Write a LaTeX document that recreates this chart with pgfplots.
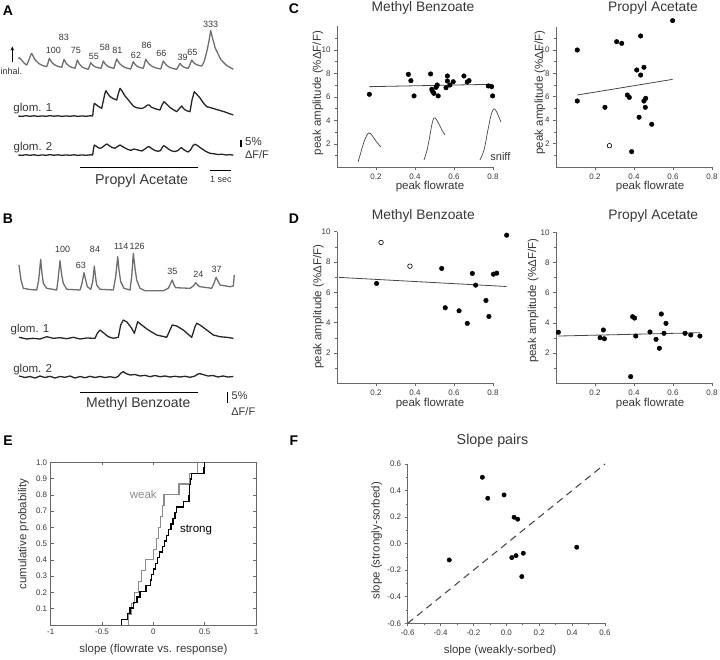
\documentclass[border=0pt]{standalone}
\usepackage{fontspec}
\setmainfont{Liberation Sans}
\usepackage{pgfplots}
\pgfplotsset{compat=1.18}
\usetikzlibrary{arrows.meta}

\definecolor{axgray}{RGB}{105,105,105}
\definecolor{txtgray}{RGB}{55,55,55}
\definecolor{snifgray}{RGB}{110,110,110}
\definecolor{fitgray}{RGB}{70,70,70}
\definecolor{weakgray}{RGB}{140,140,140}
\newcommand\fs[1]{\fontsize{#1}{#1}\selectfont}

\pgfplotsset{
  base/.style={scale only axis, clip=false,
    /pgf/number format/assume math mode=true,
    axis line style={axgray, line width=0.7pt},
    tick style={axgray, line width=0.6pt},
    major tick length=3pt, minor tick length=2pt,
    tick label style={font=\fs{8}, text=txtgray},
    label style={font=\fs{11.5}, text=txtgray}},
  scat/.style={base, width=156pt, xmin=0, xmax=0.8, ymin=0,
    axis x line*=bottom, axis y line*=left, tick align=outside,
    xtick={0.2,0.4,0.6,0.8},
    xlabel={peak flowrate}, ylabel={peak amplitude (\%ΔF/F)}},
  dots/.style={only marks, mark=*, mark size=2.3pt, mark options={draw=black, fill=black}},
  opendots/.style={only marks, mark=*, mark size=2.3pt, mark options={draw=black, fill=white, line width=0.6pt}},
  fitline/.style={no marks, sharp plot, fitgray, line width=0.8pt},
  trace/.style={no marks, sharp plot, line width=1.3pt, line join=round},
}

\begin{document}
\begin{tikzpicture}
\path[use as bounding box] (0pt,0pt) rectangle (720pt,659pt);

% ---------- panels A and B: traces, drawn on a pixel canvas ----------
\begin{axis}[scale only axis, width=720pt, height=659pt, at={(0pt,0pt)}, anchor=south west,
  xmin=0, xmax=720, ymin=0, ymax=659, y dir=reverse, hide axis, clip=false]
% A: sniff
\addplot[trace, snifgray] coordinates {(18.3,58.5)(19.5,57.8)(22,60.5)(24.5,63.5)(26.7,65)(28.5,61)(30.5,55.5)(31.7,53.3)(34.7,59.3)(38.5,63.3)(42.2,65.4)(46.7,66.7)(48,63)(49.3,58.3)(51.8,62.4)(54.9,65)(58,66.4)(61.7,67.3)(62.8,63.5)(64,59.3)(66.2,63.4)(69,66)(71.7,67.4)(75,68.3)(76.2,64.5)(77.3,60)(79.5,64.2)(82.3,67)(85,68.4)(88.3,69.3)(89.5,66)(90.7,62.7)(92.8,65.2)(95.3,66.9)(97.9,67.7)(101,68.3)(102.2,64.8)(103.3,61)(105.4,64.3)(108.1,66.5)(110.8,67.6)(114,68.3)(115.3,63.5)(116.7,59)(119.5,63.5)(123,66.5)(126.5,68)(130.7,69)(132,65.5)(133.3,61.7)(135.3,64.7)(137.8,66.7)(140.3,67.6)(143.3,68.3)(144.5,64)(145.7,59.3)(148.7,63.7)(152.5,66.6)(156.2,68)(160.7,69)(162,65)(163.3,61)(166,64.7)(169.3,67.2)(172.7,68.5)(176.7,69.3)(178.3,66.5)(180,63.3)(181.7,65.5)(183.7,67)(185.8,67.8)(188.3,68.3)(190,64.5)(191.7,60)(193.7,62.7)(196.2,64.5)(198.7,65.4)(201.7,66)(204,62)(206.7,52)(208.8,42)(210.7,30.7)(212.5,38)(215.2,48)(220.9,59.7)(226.5,65.4)(233.3,69.3)};
% A: glom 1
\addplot[trace, black!85] coordinates {(18.3,116)(22,116.4)(26,115.7)(30,116.3)(34,115.8)(38,116.4)(42,115.9)(46,116.3)(50,115.7)(54,116.2)(58,115.8)(62,116.4)(66,115.9)(70,116.3)(74,115.8)(78,116.4)(82,115.9)(86,116.3)(90,115.8)(92.7,116)(93.5,108)(94.3,103.3)(96,104.5)(98.5,106.5)(101.7,108.3)(103.5,100)(105,93)(106,90.7)(108,94)(110,96.5)(113,98.5)(116.7,100)(118.5,93)(120,88.3)(122,91)(125,96)(128,99.5)(130,102)(133.3,106)(136,107.5)(140,108.3)(142,108.5)(145,107)(147.5,105)(149.3,105)(151,107)(155,108.7)(158,109.5)(160,110)(162,105)(164,101.7)(166,103.5)(170,107.5)(173,109.5)(176.7,111.7)(179,109)(181.7,106)(183.5,108.5)(186,110.5)(190,111.7)(192,100)(194.3,91.7)(196.5,94)(200,98)(203,102.5)(206.7,106.7)(210,107.5)(215,109)(220,110.5)(225,112)(229,113.5)(233.3,115)};
% A: glom 2
\addplot[trace, black!85] coordinates {(18.3,155)(22,155.4)(26,154.7)(30,155.3)(34,154.8)(38,155.5)(42,154.9)(46,155.3)(50,154.7)(54,155.2)(58,154.8)(62,155.4)(66,154.9)(70,155.3)(74,154.8)(78,155.4)(82,154.9)(86,155.3)(90,154.8)(92.7,155)(93.5,149)(94.3,145)(96,146)(98,147.5)(100,148.3)(102,147.5)(104.5,145.5)(106.7,144)(109,145.5)(112,147.5)(115,148.3)(117.5,146.5)(120,145)(122.5,146.5)(125,148)(128,149.5)(131,150.3)(134,149)(136,149.5)(139,150.3)(142,151)(145,149)(147.5,147)(149.3,146.7)(151.5,148.5)(155,150.5)(158,151.3)(160.5,150.5)(162.5,147)(164,145.7)(166.5,147.5)(169,149.5)(172,151)(175,151.5)(178,150.5)(180,148.5)(181.7,147.7)(183.5,149.5)(186,151)(188,152)(190.5,150)(193,145.5)(195,144.3)(197.5,145.5)(200,147.5)(203,149.5)(206,151.5)(210,153.3)(214,153.8)(218,154.5)(222,154.2)(226,155)(230,154.6)(233.3,155.2)};
% B: sniff
\addplot[trace, snifgray] coordinates {(19,265)(21,280)(23.3,288.3)(30,289.5)(36.7,290)(38.7,280)(40.7,259.3)(42,273.3)(43.3,283.3)(46.7,288.3)(56.7,290)(58,280)(60,260.7)(61.7,275)(63.3,283.3)(66.7,289.3)(80,290)(82,283.3)(84,272.7)(85.7,280)(87.3,286.7)(90.7,289.3)(92.7,281.7)(94.3,266)(95.7,278.3)(96.7,285)(100,289.3)(113.3,290)(115.7,276.7)(117.7,256.7)(119,270)(120.7,281.7)(124,288.3)(130,290)(131.7,276.7)(133.3,253.3)(135,268.3)(136.7,280)(140,288.3)(145,290.7)(163.3,290.7)(168.3,288.3)(172.3,280)(174,285)(175.7,287.7)(190,288.3)(193.3,286)(195.7,282.7)(198.3,285.7)(200,286.7)(211.7,288.3)(214,283.3)(216,277.3)(218.3,281.7)(220,285)(230,286.7)(233.3,286)(234.3,275)};
% B: glom 1
\addplot[trace, black!85] coordinates {(19,337.3)(26.7,339)(33.3,338.3)(40,339)(46.7,336.7)(53.3,338.3)(60,337.7)(66.7,338.7)(73.3,337.3)(80,339)(86.7,338)(95,338.3)(97.3,333.3)(100,330)(103.3,332.7)(108.3,336.7)(113.3,338.3)(118.3,337.3)(120.7,325)(123.3,320)(126.7,321.7)(131.7,328.3)(134.3,333.3)(137.7,321.7)(141.7,325)(148.3,330)(156.7,335)(166.7,337.3)(170,330)(172.3,325)(176.7,326)(183.3,330)(191.7,337.3)(195,326.7)(196.7,323.3)(200,325)(206.7,330)(213.3,335)(220,336.7)(226.7,337.3)(233.3,338.3)};
% B: glom 2
\addplot[trace, black!85] coordinates {(19,376)(25,377.5)(30,376.5)(35,378)(40,376)(45,377.5)(50,376.3)(55,378)(60,376.5)(65,377.3)(70,376)(75,378)(80,376.5)(85,377.7)(90,376.3)(95,377.5)(100,376.5)(105,377.5)(110,376.7)(115,377.7)(118,376.5)(121,373)(123.3,371.7)(126,373.5)(130,375)(135,374.5)(140,376)(145,375.3)(150,376.7)(155,375.5)(160,376.7)(165,376)(170,377)(175,376.3)(180,377)(185,376.3)(190,377.3)(195,376)(198,374)(200,373.7)(203,374.5)(208,376)(213,375.5)(218,377)(223,376)(228,377)(233.3,376.5)};

% bars and arrow
\draw[-{Stealth[length=4pt,width=3.5pt]}, line width=0.8pt] (axis cs:12.3,62) -- (axis cs:12.3,46.5);
\draw[line width=1.2pt] (axis cs:80,167.7) -- (axis cs:198.3,167.7);
\draw[line width=1.2pt] (axis cs:210,170.3) -- (axis cs:231,170.3);
\draw[line width=1.2pt] (axis cs:241,140) -- (axis cs:241,147);
\draw[line width=1.2pt] (axis cs:80,392.7) -- (axis cs:198.3,392.7);
\draw[line width=1.2pt] (axis cs:227.7,391.7) -- (axis cs:227.7,402.7);

% texts: panel letters, titles, annotations
\begin{scope}[every node/.style={text=txtgray, inner sep=0pt}]
\node[font=\fs{14}\bfseries, text=black] at (axis cs:8,11) {A};
\node[font=\fs{14}\bfseries, text=black] at (axis cs:8,219) {B};
\node[font=\fs{14}\bfseries, text=black] at (axis cs:294,9) {C};
\node[font=\fs{14}\bfseries, text=black] at (axis cs:294,219) {D};
\node[font=\fs{14}\bfseries, text=black] at (axis cs:8,441) {E};
\node[font=\fs{14}\bfseries, text=black] at (axis cs:294,441) {F};
\node[font=\fs{13.8}] at (axis cs:423,8) {Methyl Benzoate};
\node[font=\fs{13.8}] at (axis cs:653,8) {Propyl Acetate};
\node[font=\fs{13.8}] at (axis cs:423.3,216) {Methyl Benzoate};
\node[font=\fs{13.8}] at (axis cs:653.3,216) {Propyl Acetate};
\node[font=\fs{14.3}] at (axis cs:492.5,441) {Slope pairs};
\node[font=\fs{9}, anchor=west] at (axis cs:0.5,71) {inhal.};
\node[font=\fs{9}] at (axis cs:53.3,50) {100};
\node[font=\fs{9}] at (axis cs:64,37.3) {83};
\node[font=\fs{9}] at (axis cs:76,50.7) {75};
\node[font=\fs{9}] at (axis cs:94,56) {55};
\node[font=\fs{9}] at (axis cs:105,47.3) {58};
\node[font=\fs{9}] at (axis cs:117.3,50.7) {81};
\node[font=\fs{9}] at (axis cs:136,55) {62};
\node[font=\fs{9}] at (axis cs:146.7,45.7) {86};
\node[font=\fs{9}] at (axis cs:161.3,53.3) {66};
\node[font=\fs{9}] at (axis cs:182.7,57.3) {39};
\node[font=\fs{9}] at (axis cs:192.3,52.3) {65};
\node[font=\fs{9}] at (axis cs:210.7,24.3) {333};
\node[font=\fs{11.5}] at (axis cs:32.8,108.5) {glom. 1};
\node[font=\fs{11.5}] at (axis cs:33,148) {glom. 2};
\node[font=\fs{11.5}, anchor=west] at (axis cs:245,141.5) {5\%};
\node[font=\fs{11}] at (axis cs:257,155) {ΔF/F};
\node[font=\fs{14.3}] at (axis cs:141.7,181) {Propyl Acetate};
\node[font=\fs{9}] at (axis cs:221,179.7) {1 sec};
\node[font=\fs{9}] at (axis cs:62.7,249.3) {100};
\node[font=\fs{9}] at (axis cs:81,265) {63};
\node[font=\fs{9}] at (axis cs:95,249.3) {84};
\node[font=\fs{9}] at (axis cs:121.3,246) {114};
\node[font=\fs{9}] at (axis cs:137.2,246) {126};
\node[font=\fs{9}] at (axis cs:172.3,271.7) {35};
\node[font=\fs{9}] at (axis cs:198.3,274.3) {24};
\node[font=\fs{9}] at (axis cs:216.7,269.3) {37};
\node[font=\fs{11.5}] at (axis cs:30,329.3) {glom. 1};
\node[font=\fs{11.5}] at (axis cs:32.7,369.3) {glom. 2};
\node[font=\fs{14}] at (axis cs:138.3,404) {Methyl Benzoate};
\node[font=\fs{11}, anchor=west] at (axis cs:231.5,396) {5\%};
\node[font=\fs{11}] at (axis cs:243.3,411.7) {ΔF/F};
\node[font=\fs{11.5}, text=weakgray] at (axis cs:143.3,494) {weak};
\node[font=\fs{11.5}, text=black] at (axis cs:196,530) {strong};
\end{scope}
\end{axis}

% ---------- C left: Methyl Benzoate ----------
\begin{axis}[scat, at={(337pt,491.5pt)}, anchor=south west, height=141pt, ymax=12,
  ytick={2,4,6,8,10}, minor ytick={1,3,5,7,9,11},
  xlabel style={at={(axis description cs:0.596,-0.135)}, anchor=center},
  ylabel style={at={(axis description cs:-0.122,0.528)}, anchor=center}]
\addplot[dots] coordinates {(0.166,6.23)(0.366,7.93)(0.379,7.39)(0.395,6.09)(0.480,7.96)(0.486,6.65)(0.491,6.45)(0.497,6.31)(0.508,6.82)(0.514,7.02)(0.519,6.09)(0.559,6.79)(0.566,7.79)(0.566,7.36)(0.579,7.02)(0.596,7.30)(0.651,7.79)(0.668,7.28)(0.677,7.39)(0.776,6.94)(0.793,6.88)(0.798,6.09)};
\addplot[fitline] coordinates {(0.166,6.88)(0.798,7.08)};
% sniff waveforms
\addplot[no marks, smooth, fitgray, line width=0.7pt] coordinates {(0.108,0.47)(0.123,1.32)(0.138,2.17)(0.151,2.68)(0.162,2.94)(0.172,2.89)(0.185,2.60)(0.205,2.13)(0.226,1.74)};
\addplot[no marks, smooth, fitgray, line width=0.7pt] coordinates {(0.446,0.64)(0.462,1.49)(0.477,2.77)(0.487,3.70)(0.497,4.21)(0.508,4.13)(0.523,3.70)(0.538,3.19)(0.554,2.77)};
\addplot[no marks, smooth, fitgray, line width=0.7pt] coordinates {(0.733,0.64)(0.754,1.49)(0.774,3.19)(0.790,4.47)(0.803,4.98)(0.813,4.89)(0.826,4.47)(0.841,3.87)};
\node[font=\fs{11}, text=txtgray] at (axis cs:0.838,0.95) {sniff};
\end{axis}

% ---------- C right: Propyl Acetate ----------
\begin{axis}[scat, at={(556pt,492pt)}, anchor=south west, height=140.4pt, ymax=12,
  ytick={2,4,6,8,10}, minor ytick={1,3,5,7,9,11},
  xlabel style={at={(axis description cs:0.603,-0.138)}, anchor=center},
  ylabel style={at={(axis description cs:-0.103,0.531)}, anchor=center}]
\addplot[dots] coordinates {(0.598,12.51)(0.109,10.0)(0.311,10.71)(0.337,10.57)(0.434,11.20)(0.414,8.29)(0.434,7.86)(0.451,8.52)(0.366,6.15)(0.376,5.95)(0.109,5.64)(0.251,5.10)(0.460,5.87)(0.451,5.64)(0.458,5.10)(0.426,4.25)(0.491,3.65)(0.388,1.31)};
\addplot[opendots] coordinates {(0.274,1.82)};
\addplot[fitline] coordinates {(0.109,6.15)(0.598,7.49)};
\end{axis}

% ---------- D left: Methyl Benzoate ----------
\begin{axis}[scat, at={(337pt,275.5pt)}, anchor=south west, height=151.8pt, ymax=10,
  ytick={2,4,6,8,10}, minor ytick={1,3,5,7,9},
  xlabel style={at={(axis description cs:0.596,-0.135)}, anchor=center},
  ylabel style={at={(axis description cs:-0.12,0.506)}, anchor=center}]
\addplot[dots] coordinates {(0.870,9.77)(0.537,7.58)(0.694,7.25)(0.802,7.20)(0.819,7.27)(0.203,6.59)(0.711,6.48)(0.764,5.47)(0.555,4.99)(0.626,4.79)(0.779,4.42)(0.668,3.96)};
\addplot[opendots] coordinates {(0.226,9.29)(0.374,7.73)};
\addplot[fitline] coordinates {(0.01,6.99)(0.870,6.39)};
\end{axis}

% ---------- D right: Propyl Acetate ----------
\begin{axis}[scat, at={(556pt,275.7pt)}, anchor=south west, height=151pt, ymax=10,
  ytick={2,4,6,8,10}, minor ytick={1,3,5,7,9},
  xlabel style={at={(axis description cs:0.603,-0.135)}, anchor=center},
  ylabel style={at={(axis description cs:-0.146,0.546)}, anchor=center}]
\addplot[dots] coordinates {(0.012,3.38)(0.226,3.02)(0.243,3.53)(0.248,2.95)(0.393,4.41)(0.403,4.32)(0.409,3.13)(0.482,3.40)(0.513,2.91)(0.530,2.32)(0.540,4.59)(0.554,3.31)(0.564,3.97)(0.662,3.31)(0.691,3.20)(0.738,3.13)(0.383,0.44)};
\addplot[fitline] coordinates {(0.012,3.13)(0.738,3.35)};
\end{axis}

% ---------- E: cumulative distributions ----------
\begin{axis}[base, at={(50.7pt,34pt)}, anchor=south west, width=205.3pt, height=162.7pt,
  xmin=-1, xmax=1, ymin=0, ymax=1, tick align=inside,
  xtick={-1,-0.5,0,0.5,1},
  ytick={0.1,0.2,0.3,0.4,0.5,0.6,0.7,0.8,0.9,1.0},
  yticklabel style={/pgf/number format/.cd, fixed, fixed zerofill, precision=1},
  xlabel={slope (flowrate vs. response)}, ylabel={cumulative probability},
  xlabel style={at={(axis description cs:0.5,-0.148)}, anchor=center},
  ylabel style={at={(axis description cs:-0.133,0.559)}, anchor=center}]
\addplot[const plot, no marks, weakgray, line width=1.1pt] coordinates {(-0.24,0)(-0.24,0.0667)(-0.21,0.1333)(-0.18,0.2)(-0.145,0.2667)(-0.115,0.3333)(-0.08,0.4)(0.0,0.4667)(0.03,0.5333)(0.05,0.6)(0.07,0.6667)(0.088,0.7333)(0.104,0.8)(0.25,0.8667)(0.35,0.9333)(0.43,1.0)};
\addplot[const plot, no marks, black, line width=1.4pt] coordinates {(-0.308,0)(-0.308,0.0345)(-0.253,0.0690)(-0.227,0.1034)(-0.195,0.1379)(-0.16,0.1724)(-0.13,0.2069)(-0.07,0.2414)(-0.03,0.2759)(-0.016,0.3103)(0.0,0.3448)(0.02,0.3793)(0.04,0.4138)(0.06,0.4483)(0.09,0.4828)(0.11,0.5172)(0.13,0.5517)(0.15,0.5862)(0.17,0.6207)(0.19,0.6552)(0.21,0.6897)(0.227,0.7241)(0.292,0.7586)(0.347,0.7931)(0.35,0.8276)(0.355,0.8621)(0.36,0.8966)(0.373,0.9310)(0.495,0.9655)(0.50,1.0)};
\end{axis}

% ---------- F: slope pairs ----------
\begin{axis}[base, at={(407.7pt,35.7pt)}, anchor=south west, width=197.3pt, height=159.3pt,
  xmin=-0.6, xmax=0.6, ymin=-0.6, ymax=0.6,
  axis x line*=bottom, axis y line*=left, tick align=outside,
  xtick={-0.6,-0.4,-0.2,0,0.2,0.4,0.6}, ytick={-0.6,-0.4,-0.2,0,0.2,0.4,0.6},
  minor tick num=1,
  xticklabel style={/pgf/number format/.cd, fixed, fixed zerofill, precision=1},
  yticklabel style={/pgf/number format/.cd, fixed, fixed zerofill, precision=1},
  xlabel={slope (weakly-sorbed)}, ylabel={slope (strongly-sorbed)},
  xlabel style={at={(axis description cs:0.468,-0.174)}, anchor=center},
  ylabel style={at={(axis description cs:-0.157,0.518)}, anchor=center}]
\addplot[no marks, gray!60!black, line width=1.1pt, dash pattern=on 7pt off 5pt] coordinates {(-0.6,-0.6)(0.6,0.6)};
\addplot[dots, mark size=2.2pt] coordinates {(-0.146,0.50)(-0.113,0.342)(-0.014,0.367)(0.047,0.199)(0.069,0.184)(-0.347,-0.123)(0.033,-0.105)(0.059,-0.090)(0.103,-0.072)(0.094,-0.248)(0.428,-0.027)};
\end{axis}
\end{tikzpicture}
\end{document}
